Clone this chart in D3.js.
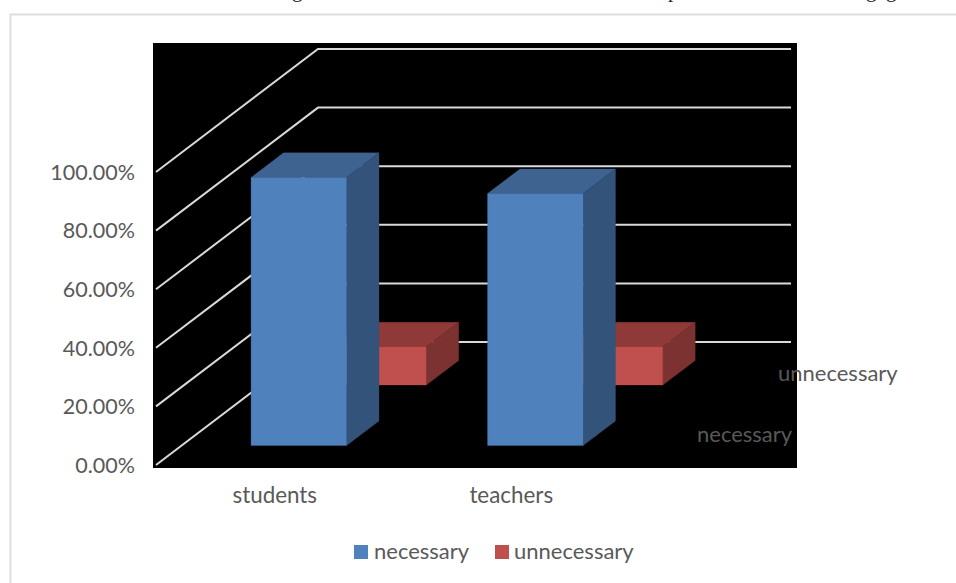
<!DOCTYPE html>
<html>
<head>
<meta charset="utf-8">
<script src="https://cdn.jsdelivr.net/npm/d3@7"></script>
<style>
  html, body { margin: 0; padding: 0; background: #fff; overflow: hidden; }
  svg { display: block; }
  text { font-family: Lato, "Open Sans", sans-serif; }
</style>
</head>
<body>
<div id="chart"></div>
<script>
// values
let categories = ['students', 'teachers'];
let seriesNames = ['necessary', 'unnecessary'];
let necessaryValues = [91.5, 86];
let unnecessaryValues = [13, 13];
let yTicks = [0, 20, 40, 60, 80, 100];
let seriesColors = {
    necessary: {front: '#4f81bd', top: '#3f6390', side: '#33537a'},
    unnecessary: {front: '#c0504d', top: '#8f3a38', side: '#7c3230'}
};
// descenders of the line of text cut off above the chart
let cutOffGlyphs = ['g', 'p', 'g', 'g'];
let cutOffX = [292, 668, 866, 886];

let width = 956, height = 583;
let textColor = '#595959', gridColor = '#d9d9d9';
let labelSize = '22px';

let svg = d3.select('#chart').append('svg')
    .attr('width', width)
    .attr('height', height);

svg.selectAll('text.cut').data(cutOffGlyphs).join('text')
    .attr('class', 'cut')
    .attr('x', (d, i) => cutOffX[i])
    .attr('y', -3)
    .attr('fill', '#222')
    .style('font-family', '"Liberation Serif", serif')
    .style('font-size', '21px')
    .text(d => d);

// chart frame, runs off the page at right and bottom
svg.append('rect')
    .attr('x', 10.5).attr('y', 14.5)
    .attr('width', 1000).attr('height', 1000)
    .attr('fill', '#fff')
    .attr('stroke', '#dedede')
    .attr('stroke-width', 2);

svg.append('rect')
    .attr('x', 153).attr('y', 43)
    .attr('width', 644).attr('height', 425)
    .attr('fill', '#000');

// front plane scales, the depth scale pushes things back up and to the right
let x = d3.scaleBand().domain(categories).range([155, 628])
    .paddingInner(0.596).paddingOuter(0.298);
let y = d3.scaleLinear().domain([0, 100]).range([465, 172]);
let depthX = d3.scaleLinear().domain([0, 1]).range([0, 162]);
let depthY = d3.scaleLinear().domain([0, 1]).range([0, -123]);
let seriesDepth = d3.scaleOrdinal().domain(seriesNames).range([0.158, 0.65]);
let barDepth = 0.2;

function project(px, value, depth) {
    return [px + depthX(depth), y(value) + depthY(depth)];
}

// gridlines: side wall then back wall
let grid = svg.append('g');
grid.selectAll('path').data(yTicks).join('path')
    .attr('d', d => d3.line()([
        project(156, d, 0),
        project(156, d, 1),
        project(629, d, 1)
    ]))
    .attr('fill', 'none')
    .attr('stroke', gridColor)
    .attr('stroke-width', 2);

function drawBars(name, values) {
    let c = seriesColors[name];
    let d0 = seriesDepth(name), d1 = d0 + barDepth;
    let w = x.bandwidth();
    let bars = svg.append('g').selectAll('g')
        .data(categories.map((cat, i) => ({cat: cat, value: values[i]})))
        .join('g');
    let poly = (fill, pts) => bars.append('polygon')
        .attr('fill', fill)
        .attr('stroke', fill)
        .attr('stroke-width', 0.3)
        .attr('points', d => pts(d).map(p => p.join(',')).join(' '));
    // top face
    poly(c.top, d => [
        project(x(d.cat), d.value, d0), project(x(d.cat) + w, d.value, d0),
        project(x(d.cat) + w, d.value, d1), project(x(d.cat), d.value, d1)
    ]);
    // side face
    poly(c.side, d => [
        project(x(d.cat) + w, 0, d0), project(x(d.cat) + w, d.value, d0),
        project(x(d.cat) + w, d.value, d1), project(x(d.cat) + w, 0, d1)
    ]);
    // front face
    poly(c.front, d => [
        project(x(d.cat), 0, d0), project(x(d.cat) + w, 0, d0),
        project(x(d.cat) + w, d.value, d0), project(x(d.cat), d.value, d0)
    ]);
}

drawBars('unnecessary', unnecessaryValues);
drawBars('necessary', necessaryValues);

// axes
let yAxis = svg.append('g')
    .attr('transform', 'translate(135,0.5)')
    .call(d3.axisLeft(y).tickValues(yTicks).tickSize(0).tickPadding(0)
        .tickFormat(d => d3.format('.2f')(d) + '%'));
yAxis.select('.domain').remove();
yAxis.selectAll('text')
    .attr('fill', textColor)
    .style('font-family', 'Lato, "Open Sans", sans-serif')
    .style('font-size', '21.5px');

let xAxis = svg.append('g')
    .attr('transform', 'translate(1.5,487)')
    .call(d3.axisBottom(x).tickSize(0).tickPadding(0));
xAxis.select('.domain').remove();
xAxis.selectAll('text')
    .attr('fill', textColor)
    .style('font-family', 'Lato, "Open Sans", sans-serif')
    .style('font-size', '22.4px');

// depth axis labels
let depthLabels = svg.append('g');
depthLabels.selectAll('text').data(seriesNames).join('text')
    .attr('x', d => d === 'necessary' ? 697 : 778)
    .attr('y', d => d === 'necessary' ? 442 : 381)
    .attr('fill', textColor)
    .style('font-size', labelSize)
    .text(d => d);

// legend
let legend = svg.append('g').selectAll('g').data(seriesNames).join('g')
    .attr('transform', d => `translate(${d === 'necessary' ? 354 : 495},545)`);
legend.append('rect')
    .attr('width', 14).attr('height', 14)
    .attr('fill', d => seriesColors[d].front);
legend.append('text')
    .attr('x', d => d === 'necessary' ? 20 : 19)
    .attr('y', 14)
    .attr('fill', textColor)
    .style('font-size', labelSize)
    .text(d => d);
</script>
</body>
</html>
